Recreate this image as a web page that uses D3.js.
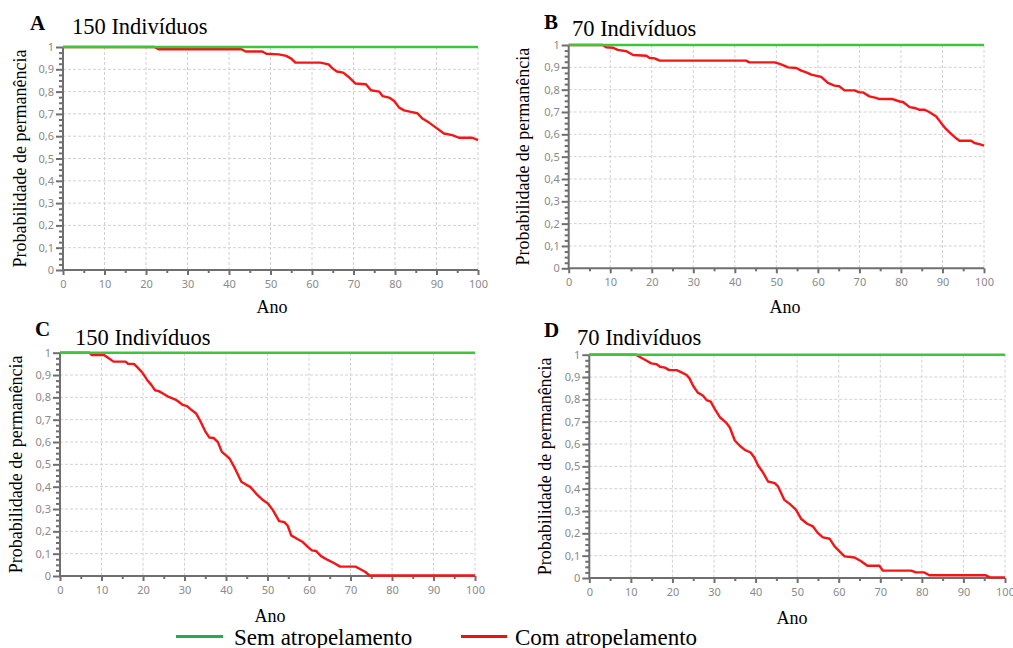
<!DOCTYPE html>
<html>
<head>
<meta charset="utf-8">
<script src="https://cdn.jsdelivr.net/npm/d3@7"></script>
<style>
  html, body { margin: 0; padding: 0; background: #ffffff; }
  svg { display: block; }
  .serif { font-family: "Liberation Serif", "Times New Roman", serif; fill: #000; }
  .tick-label { font-family: "Noto Sans", "Open Sans", sans-serif; font-size: 11px; fill: #8a8a8a; }
</style>
</head>
<body>
<svg id="chart" width="1013" height="648"></svg>
<script>
// Survival probability over 100 years, with and without road kills.
// Panel A / C: 150 individuals, panel B / D: 70 individuals.

const xTickValues = [0, 10, 20, 30, 40, 50, 60, 70, 80, 90, 100];
const xTickLabels = ["0", "10", "20", "30", "40", "50", "60", "70", "80", "90", "100"];
const yTickValues = [0, 0.1, 0.2, 0.3, 0.4, 0.5, 0.6, 0.7, 0.8, 0.9, 1];
const yTickLabels = ["0", "0,1", "0,2", "0,3", "0,4", "0,5", "0,6", "0,7", "0,8", "0,9", "1"];

// "Sem atropelamento": probability stays at 1 for the whole period
const semYears = [0, 100];
const semValues = [1, 1];

// "Com atropelamento" curves
const yearsA = [0, 22, 23, 43, 44, 48, 49, 52, 53.8, 55, 56, 62, 64, 65, 66, 67.5, 69, 70.5, 73, 74.2, 76.2, 77, 78.6, 79.8, 81, 82.2, 83.8, 85.4, 86.6, 88.2, 90.2, 91.8, 93.8, 95.4, 98.6, 100];
const valuesA = [1, 1, 0.99, 0.99, 0.98, 0.98, 0.97, 0.967, 0.96, 0.948, 0.93, 0.93, 0.922, 0.903, 0.89, 0.885, 0.863, 0.836, 0.833, 0.806, 0.80, 0.78, 0.773, 0.758, 0.728, 0.716, 0.709, 0.703, 0.679, 0.661, 0.634, 0.612, 0.605, 0.593, 0.593, 0.582];

const yearsB = [0, 8.2, 9, 10.6, 11.8, 13.9, 15.5, 18.7, 19.5, 20.7, 21.9, 42.7, 43.5, 49.6, 50.8, 52, 52.8, 54.8, 56, 57.2, 58.4, 60.8, 62.4, 64, 65.2, 66.4, 68.8, 70, 70.8, 72.4, 74, 74.8, 78, 79.7, 80.5, 82.1, 83.3, 84.5, 85.7, 86.9, 88.5, 89.7, 90.9, 92.1, 93.3, 94.1, 96.9, 97.7, 98.9, 100];
const valuesB = [1, 1, 0.99, 0.988, 0.978, 0.972, 0.955, 0.952, 0.942, 0.94, 0.93, 0.93, 0.922, 0.922, 0.915, 0.907, 0.90, 0.897, 0.885, 0.877, 0.867, 0.857, 0.83, 0.818, 0.815, 0.797, 0.797, 0.788, 0.788, 0.77, 0.763, 0.758, 0.758, 0.747, 0.745, 0.722, 0.718, 0.71, 0.71, 0.699, 0.68, 0.65, 0.623, 0.602, 0.582, 0.571, 0.571, 0.561, 0.556, 0.549];

const yearsC = [0, 7.1, 7.6, 10.6, 11.4, 12.9, 15.8, 16.4, 17.8, 18.6, 19.8, 21, 22, 22.9, 23.8, 25, 26.2, 27.8, 28.6, 29.6, 30.6, 31.8, 32.8, 33.8, 35, 36, 37, 38, 39, 40, 40.9, 42.1, 43.7, 44.8, 45.9, 47.3, 48.9, 50.1, 51.3, 52.8, 54.1, 54.9, 55.7, 57.1, 58.5, 59.9, 60.7, 61.7, 62.9, 64.5, 66.1, 67.5, 71.2, 72.4, 73.6, 74.6, 100];
const valuesC = [1, 1, 0.99, 0.99, 0.98, 0.96, 0.96, 0.95, 0.95, 0.935, 0.912, 0.878, 0.856, 0.832, 0.828, 0.815, 0.802, 0.79, 0.78, 0.766, 0.761, 0.742, 0.728, 0.694, 0.648, 0.62, 0.618, 0.601, 0.556, 0.54, 0.525, 0.484, 0.422, 0.41, 0.398, 0.368, 0.34, 0.325, 0.295, 0.246, 0.241, 0.224, 0.182, 0.167, 0.152, 0.127, 0.115, 0.112, 0.089, 0.072, 0.057, 0.042, 0.042, 0.03, 0.018, 0.002, 0.002];

const yearsD = [0, 11.2, 12.6, 13.8, 14.9, 16.1, 17, 18.2, 19.2, 21, 22.2, 23.4, 24.1, 25, 26.1, 27.3, 28.2, 29.2, 30.2, 31.4, 32.9, 33.8, 35, 36.2, 37.4, 38.8, 39.7, 40.6, 41.8, 43, 44.6, 45.4, 46.9, 48.2, 49.7, 51, 52.4, 53.8, 55, 56.2, 57.8, 59, 60.2, 61.4, 63.8, 65.4, 66.9, 69.8, 70.6, 77.4, 78.6, 80.6, 81.8, 95.4, 96.4, 100];
const valuesD = [1, 1, 0.985, 0.973, 0.961, 0.958, 0.946, 0.942, 0.931, 0.931, 0.921, 0.909, 0.894, 0.86, 0.83, 0.817, 0.797, 0.79, 0.756, 0.72, 0.696, 0.674, 0.616, 0.592, 0.574, 0.562, 0.54, 0.504, 0.472, 0.432, 0.425, 0.41, 0.35, 0.332, 0.306, 0.264, 0.243, 0.231, 0.201, 0.182, 0.176, 0.142, 0.119, 0.097, 0.092, 0.075, 0.055, 0.055, 0.033, 0.033, 0.025, 0.025, 0.012, 0.012, 0.003, 0.003];

const panelLetters = ["A", "B", "C", "D"];
const panelTitles = ["150 Indivíduos", "70 Indivíduos", "150 Indivíduos", "70 Indivíduos"];
const legendLabels = ["Sem atropelamento", "Com atropelamento"];

const COLOR_SEM = "#3cc63c";
const COLOR_COM = "#f21616";
const LEGEND_SEM = "#1fae4b";
const LEGEND_COM = "#ee1111";

const svg = d3.select("#chart");

// Plot frames (left, right, top, bottom) and label placement for the four panels
const panels = [
  { years: yearsA, values: valuesA, left: 63, right: 478, top: 47, bottom: 270,
    letter: [30, 29.5], title: [72, 33.5], yLabelX: 26, anoX: 272, anoY: 313 },
  { years: yearsB, values: valuesB, left: 568.7, right: 984, top: 45, bottom: 268.3,
    letter: [544, 28.5], title: [572, 36], yLabelX: 529, anoX: 785, anoY: 313 },
  { years: yearsC, values: valuesC, left: 60, right: 475, top: 352.7, bottom: 576,
    letter: [35, 335.5], title: [75, 344.5], yLabelX: 22, anoX: 270, anoY: 621.5 },
  { years: yearsD, values: valuesD, left: 589.3, right: 1005, top: 354.7, bottom: 578,
    letter: [544, 337], title: [577, 344.5], yLabelX: 551, anoX: 792, anoY: 624 }
];

panels.forEach((p, i) => {
  const g = svg.append("g");
  const x = d3.scaleLinear().domain([0, 100]).range([p.left, p.right]);
  const y = d3.scaleLinear().domain([0, 1]).range([p.bottom, p.top]);

  // dashed grid
  g.append("g").selectAll("line.vg").data(xTickValues.slice(1)).join("line")
    .attr("x1", d => x(d)).attr("x2", d => x(d))
    .attr("y1", p.top).attr("y2", p.bottom)
    .attr("stroke", "#d2d2d2").attr("stroke-width", 1).attr("stroke-dasharray", "3,2");
  g.append("g").selectAll("line.hg").data(yTickValues.slice(1)).join("line")
    .attr("x1", p.left).attr("x2", p.right)
    .attr("y1", d => y(d)).attr("y2", d => y(d))
    .attr("stroke", "#d2d2d2").attr("stroke-width", 1).attr("stroke-dasharray", "3,2");

  // x axis: labelled ticks every 10, small ticks every 5
  const xAxis = d3.axisBottom(x).tickValues(xTickValues)
    .tickFormat((d, k) => xTickLabels[k]).tickSize(5).tickPadding(5);
  const xMinor = d3.axisBottom(x).tickValues(d3.range(5, 100, 10))
    .tickFormat("").tickSize(3);
  const gx = g.append("g").attr("transform", `translate(0,${p.bottom})`).call(xAxis);
  const gxm = g.append("g").attr("transform", `translate(0,${p.bottom})`).call(xMinor);

  // y axis: labelled ticks every 0.1, small ticks every 0.025
  const yAxis = d3.axisLeft(y).tickValues(yTickValues)
    .tickFormat((d, k) => yTickLabels[k]).tickSize(7).tickPadding(2);
  const minorVals = d3.range(0, 40).filter(k => k % 4 !== 0).map(k => k / 40);
  const yMinor = d3.axisLeft(y).tickValues(minorVals).tickFormat("").tickSize(4);
  const gy = g.append("g").attr("transform", `translate(${p.left},0)`).call(yAxis);
  const gym = g.append("g").attr("transform", `translate(${p.left},0)`).call(yMinor);

  [gx, gxm, gy, gym].forEach(a => {
    a.select(".domain").attr("stroke", "#6f6f6f").attr("stroke-width", 2);
    a.selectAll(".tick line").attr("stroke", "#6f6f6f").attr("stroke-width", 2);
    a.selectAll(".tick text").attr("class", "tick-label").attr("font-size", null).attr("font-family", null);
  });
  gx.select(".domain").attr("d", `M${p.left},0H${p.right}`);
  gxm.select(".domain").remove();
  gym.select(".domain").remove();
  gy.select(".domain").attr("d", `M0,${p.bottom + 1}V${p.top}`);

  // curves: with road kills (red) under the constant one (green)
  const line = d3.line().x(d => x(d[0])).y(d => y(d[1]));
  g.append("path")
    .datum(p.years.map((yr, k) => [yr, p.values[k]]))
    .attr("d", line).attr("fill", "none")
    .attr("stroke", COLOR_COM).attr("stroke-width", 2.4)
    .attr("stroke-linejoin", "round");
  g.append("path")
    .datum(semYears.map((yr, k) => [yr, semValues[k]]))
    .attr("d", line).attr("fill", "none")
    .attr("stroke", COLOR_SEM).attr("stroke-width", 2.6);

  // panel letter and title
  g.append("text").attr("class", "serif")
    .attr("x", p.letter[0]).attr("y", p.letter[1])
    .attr("font-size", 21).attr("font-weight", "bold").text(panelLetters[i]);
  g.append("text").attr("class", "serif")
    .attr("x", p.title[0]).attr("y", p.title[1])
    .attr("font-size", 22.5).text(panelTitles[i]);

  // axis titles
  g.append("text").attr("class", "serif")
    .attr("transform", `translate(${p.yLabelX},${(p.top + p.bottom) / 2}) rotate(-90)`)
    .attr("text-anchor", "middle").attr("font-size", 18)
    .text("Probabilidade de permanência");
  g.append("text").attr("class", "serif")
    .attr("x", p.anoX).attr("y", p.anoY)
    .attr("text-anchor", "middle").attr("font-size", 18).text("Ano");
});

// shared legend along the bottom
const legend = svg.append("g");
const legendItems = [
  { label: legendLabels[0], color: LEGEND_SEM, x1: 176, x2: 223, tx: 234 },
  { label: legendLabels[1], color: LEGEND_COM, x1: 461, x2: 507, tx: 515 }
];
legendItems.forEach(it => {
  legend.append("line")
    .attr("x1", it.x1).attr("x2", it.x2).attr("y1", 636.5).attr("y2", 636.5)
    .attr("stroke", it.color).attr("stroke-width", 3);
  legend.append("text").attr("class", "serif")
    .attr("x", it.tx).attr("y", 644.5).attr("font-size", 23).text(it.label);
});
</script>
</body>
</html>
